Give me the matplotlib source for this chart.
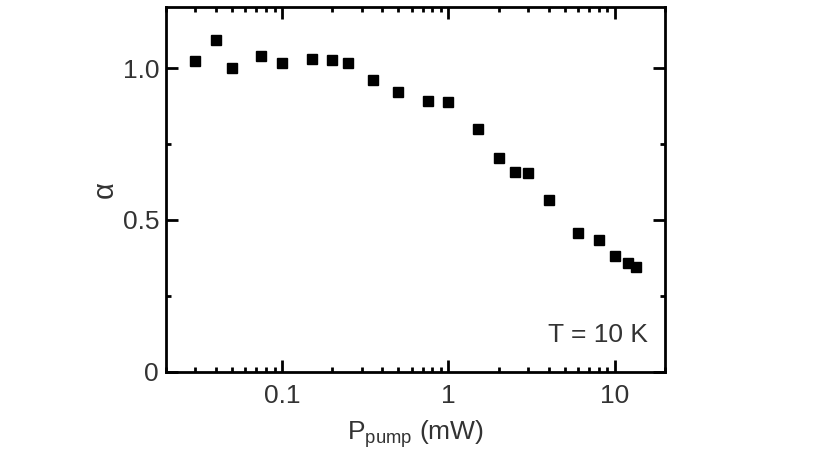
import matplotlib
matplotlib.use("Agg")
import matplotlib.pyplot as plt
from matplotlib.ticker import FixedLocator, FixedFormatter, LogLocator, NullFormatter

plt.rcParams['font.family'] = ['Liberation Sans', 'DejaVu Sans']
plt.rcParams['mathtext.fontset'] = 'custom'
plt.rcParams['mathtext.rm'] = 'Liberation Sans'

power_mw = [0.03, 0.04, 0.05, 0.075, 0.1, 0.15, 0.2, 0.25, 0.35, 0.5,
            0.75, 1.0, 1.5, 2.0, 2.5, 3.0, 4.0, 6.0, 8.0, 10.0, 12.0, 13.5]
alpha = [1.022, 1.091, 1.001, 1.039, 1.017, 1.031, 1.027, 1.017, 0.959, 0.922,
         0.890, 0.887, 0.799, 0.704, 0.659, 0.655, 0.566, 0.458, 0.434, 0.382, 0.359, 0.344]

x_ticks = [0.1, 1, 10]
x_tick_labels = ["0.1", "1", "10"]
y_ticks = [0, 0.5, 1.0]
y_tick_labels = ["0", "0.5", "1.0"]

fig = plt.figure(figsize=(8.3, 4.58), dpi=100)
ax = fig.add_axes([0.2, 0.1885, 0.601, 0.7955])
ax.plot(power_mw, alpha, linestyle='none', marker='s', markersize=7, color='black')

ax.set_xscale('log')
ax.set_xlim(0.02, 20)
ax.set_ylim(0, 1.2)

ax.xaxis.set_major_locator(FixedLocator(x_ticks))
ax.xaxis.set_major_formatter(FixedFormatter(x_tick_labels))
ax.xaxis.set_minor_locator(LogLocator(base=10, subs=range(2, 10), numticks=20))
ax.xaxis.set_minor_formatter(NullFormatter())
ax.yaxis.set_major_locator(FixedLocator(y_ticks))
ax.yaxis.set_major_formatter(FixedFormatter(y_tick_labels))
ax.yaxis.set_minor_locator(FixedLocator([0.25, 0.75]))

for s in ax.spines.values():
    s.set_linewidth(2)
ax.tick_params(which='both', direction='in', top=True, right=True, width=2,
               labelsize=19, labelcolor='#333333')
ax.tick_params(which='major', length=8.5)
ax.tick_params(which='minor', length=3.5)
ax.tick_params(axis='x', which='major', pad=9)
ax.tick_params(axis='y', which='major', pad=5)

ax.set_xlabel(r'P$_\mathregular{pump}$ (mW)', fontsize=19, color='#333333', labelpad=7)
ax.set_ylabel('α', fontsize=21, color='#333333', labelpad=3)
ax.text(0.966, 0.1, 'T = 10 K', transform=ax.transAxes, ha='right', va='center',
        fontsize=19, color='#333333')

fig.savefig('out.png', dpi=100)
